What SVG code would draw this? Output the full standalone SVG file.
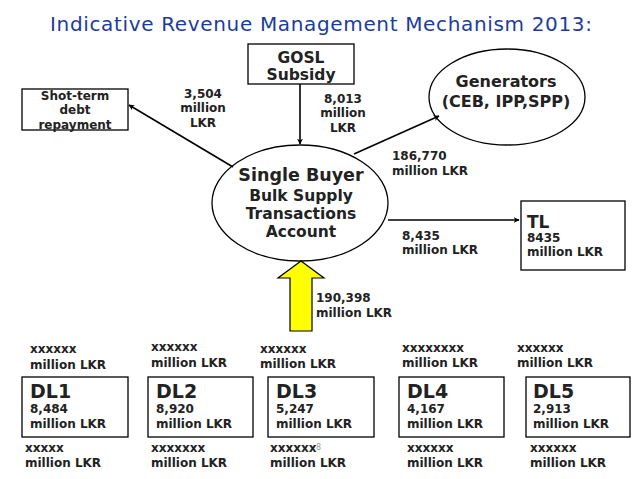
<svg xmlns="http://www.w3.org/2000/svg" width="638" height="479" viewBox="0 0 638 479">
<style>
text{font-family:"DejaVu Sans","Liberation Sans",sans-serif;font-weight:bold;fill:#222}
.title{font-weight:normal;fill:#1c3c9c;font-size:20px}
.s{font-size:12px}
.m{font-size:15.5px}
.box{fill:#fff;stroke:#000;stroke-width:1.3}
.c{text-anchor:middle}
.conn{stroke:#000;stroke-width:1.6;fill:none;marker-end:url(#ah)}
.dl{font-size:19px}
</style>
<defs>
<marker id="ah" viewBox="0 0 10 10" refX="9" refY="5" markerWidth="6" markerHeight="6" orient="auto" markerUnits="userSpaceOnUse">
<path d="M0,0 L10,5 L0,10 L3,5 z" fill="#000"/>
</marker>
</defs>
<rect width="638" height="479" fill="#fff"/>
<text class="title" x="50" y="31" textLength="542" lengthAdjust="spacing">Indicative Revenue Management Mechanism 2013:</text>

<g id="gosl">
<rect class="box" x="248" y="44" width="106" height="40"/>
<text class="m c" x="301" y="63">GOSL</text>
<text class="m c" x="301" y="80">Subsidy</text>
</g>

<g id="shortterm">
<rect class="box" x="22" y="89" width="106" height="41"/>
<text class="s c" x="75" y="100">Shot-term</text>
<text class="s c" x="75" y="114">debt</text>
<text class="s c" x="75" y="129">repayment</text>
</g>

<g id="generators">
<ellipse class="box" cx="507" cy="97" rx="78" ry="48"/>
<text class="c" x="506" y="87" style="font-size:16px">Generators</text>
<text class="c" x="506" y="107" style="font-size:16px">(CEB, IPP,SPP)</text>
</g>

<g id="singlebuyer">
<ellipse class="box" cx="300" cy="203" rx="88" ry="58"/>
<text class="c" x="301" y="181" style="font-size:17.5px">Single Buyer</text>
<text class="m c" x="301" y="201">Bulk Supply</text>
<text class="m c" x="301" y="219">Transactions</text>
<text class="m c" x="301" y="237">Account</text>
</g>

<g id="tl">
<rect class="box" x="521" y="201" width="104" height="69"/>
<text x="527" y="228" style="font-size:17px">TL</text>
<text class="s" x="527" y="242">8435</text>
<text class="s" x="527" y="256">million LKR</text>
</g>

<g id="dl1">
<rect class="box" x="22" y="377" width="106" height="60"/>
<text class="dl" x="30" y="398">DL1</text>
<text class="s" x="30" y="413">8,484</text>
<text class="s" x="30" y="428">million LKR</text>
<text class="s" x="30" y="353">xxxxxx</text>
<text class="s" x="30" y="369">million LKR</text>
<text class="s" x="25" y="452">xxxxx</text>
<text class="s" x="25" y="467">million LKR</text>
</g>

<g id="dl2">
<rect class="box" x="148" y="377" width="105" height="60"/>
<text class="dl" x="156" y="398">DL2</text>
<text class="s" x="156" y="413">8,920</text>
<text class="s" x="156" y="428">million LKR</text>
<text class="s" x="151" y="351">xxxxxx</text>
<text class="s" x="151" y="367">million LKR</text>
<text class="s" x="151" y="452">xxxxxxx</text>
<text class="s" x="151" y="467">million LKR</text>
</g>

<g id="dl3">
<rect class="box" x="268" y="377" width="106" height="60"/>
<text class="dl" x="276" y="398">DL3</text>
<text class="s" x="276" y="413">5,247</text>
<text class="s" x="276" y="428">million LKR</text>
<text class="s" x="260" y="353">xxxxxx</text>
<text class="s" x="260" y="368">million LKR</text>
<text class="s" x="270" y="452">xxxxxx</text>
<text class="s" x="270" y="467">million LKR</text>
<text x="316" y="450" style="font-size:8px;font-weight:normal;fill:#999">8</text>
</g>

<g id="dl4">
<rect class="box" x="399" y="377" width="105" height="60"/>
<text class="dl" x="407" y="398">DL4</text>
<text class="s" x="407" y="413">4,167</text>
<text class="s" x="407" y="428">million LKR</text>
<text class="s" x="402" y="352">xxxxxxxx</text>
<text class="s" x="402" y="367">million LKR</text>
<text class="s" x="407" y="452">xxxxxx</text>
<text class="s" x="407" y="467">million LKR</text>
</g>

<g id="dl5">
<rect class="box" x="526" y="377" width="104" height="60"/>
<text class="dl" x="533" y="398">DL5</text>
<text class="s" x="533" y="413">2,913</text>
<text class="s" x="533" y="428">million LKR</text>
<text class="s" x="517" y="352">xxxxxx</text>
<text class="s" x="517" y="367">million LKR</text>
<text class="s" x="530" y="452">xxxxxx</text>
<text class="s" x="530" y="467">million LKR</text>
</g>

<g id="connectors">
<line class="conn" x1="300" y1="84" x2="300" y2="144"/>
<line class="conn" x1="233" y1="167" x2="129" y2="105"/>
<line class="conn" x1="354" y1="154" x2="439" y2="116"/>
<line class="conn" x1="388" y1="220" x2="519" y2="220"/>
<polygon id="yellow-arrow" points="301,261 324,278 312,278 312,331 290,331 290,278 278,278" fill="#ffff00" stroke="#000" stroke-width="1.2"/>
<g id="conn-labels" class="s">
<text class="c" x="203" y="98">3,504</text>
<text class="c" x="203" y="112">million</text>
<text class="c" x="203" y="127">LKR</text>
<text class="c" x="343" y="103">8,013</text>
<text class="c" x="343" y="117">million</text>
<text class="c" x="343" y="132">LKR</text>
<text x="392" y="160">186,770</text>
<text x="392" y="175">million LKR</text>
<text x="402" y="240">8,435</text>
<text x="402" y="254">million LKR</text>
<text x="316" y="302">190,398</text>
<text x="316" y="317">million LKR</text>
</g>
</g>
</svg>
